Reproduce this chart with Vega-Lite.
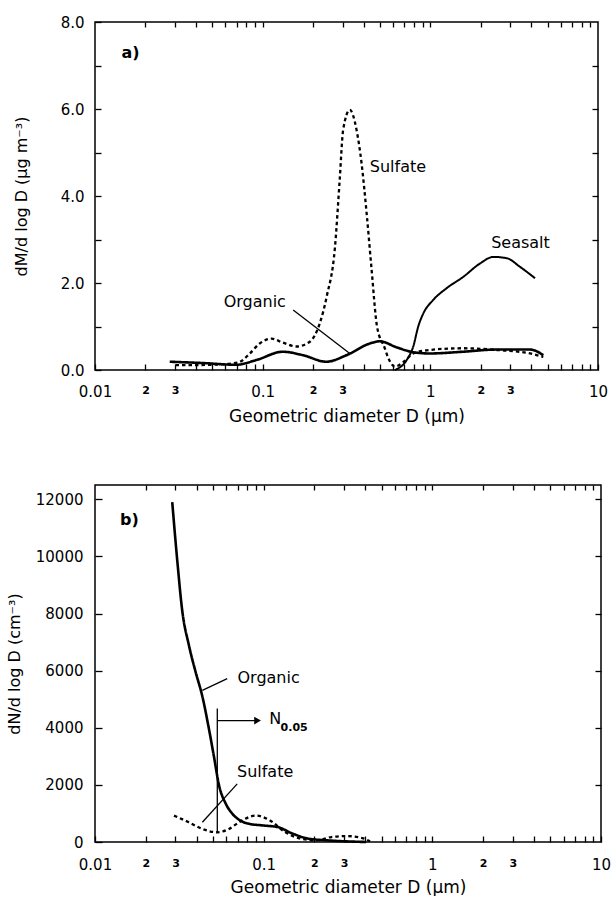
{
  "$schema": "https://vega.github.io/schema/vega-lite/v6.json",
  "background": "white",
  "padding": {"left": 5, "top": 14, "right": 0, "bottom": 0},
  "spacing": 58,
  "config": {
    "view": {"stroke": "black", "strokeWidth": 1.5},
    "font": "DejaVu Sans",
    "axis": {"domain": false, "grid": false, "ticks": true, "tickColor": "black", "tickWidth": 1.3, "tickOpacity": 1, "labelColor": "black", "titleColor": "black", "labelFontWeight": "normal", "titleFontWeight": "normal", "labelFont": "DejaVu Sans", "titleFont": "DejaVu Sans"},
    "text": {"font": "DejaVu Sans", "fontSize": 16, "color": "black"}
  },
  "datasets": {
    "massLines": [
      {"series": "Organic", "x": 0.0279, "y": 0.19},
      {"series": "Organic", "x": 0.044, "y": 0.16},
      {"series": "Organic", "x": 0.0698, "y": 0.12},
      {"series": "Organic", "x": 0.0918, "y": 0.23},
      {"series": "Organic", "x": 0.132, "y": 0.42},
      {"series": "Organic", "x": 0.174, "y": 0.34},
      {"series": "Organic", "x": 0.24, "y": 0.19},
      {"series": "Organic", "x": 0.316, "y": 0.34},
      {"series": "Organic", "x": 0.436, "y": 0.61},
      {"series": "Organic", "x": 0.5, "y": 0.66},
      {"series": "Organic", "x": 0.63, "y": 0.52},
      {"series": "Organic", "x": 0.79, "y": 0.41},
      {"series": "Organic", "x": 0.99, "y": 0.38},
      {"series": "Organic", "x": 1.57, "y": 0.42},
      {"series": "Organic", "x": 2.49, "y": 0.47},
      {"series": "Organic", "x": 3.94, "y": 0.47},
      {"series": "Organic", "x": 4.72, "y": 0.34},
      {"series": "Sulfate", "x": 0.0302, "y": 0.11},
      {"series": "Sulfate", "x": 0.05, "y": 0.12},
      {"series": "Sulfate", "x": 0.0713, "y": 0.17},
      {"series": "Sulfate", "x": 0.0838, "y": 0.38},
      {"series": "Sulfate", "x": 0.096, "y": 0.61},
      {"series": "Sulfate", "x": 0.113, "y": 0.72},
      {"series": "Sulfate", "x": 0.132, "y": 0.63},
      {"series": "Sulfate", "x": 0.159, "y": 0.54},
      {"series": "Sulfate", "x": 0.191, "y": 0.65},
      {"series": "Sulfate", "x": 0.219, "y": 1.07},
      {"series": "Sulfate", "x": 0.241, "y": 1.69},
      {"series": "Sulfate", "x": 0.27, "y": 2.83},
      {"series": "Sulfate", "x": 0.288, "y": 4.37},
      {"series": "Sulfate", "x": 0.302, "y": 5.52},
      {"series": "Sulfate", "x": 0.331, "y": 5.98},
      {"series": "Sulfate", "x": 0.363, "y": 5.52},
      {"series": "Sulfate", "x": 0.389, "y": 4.75},
      {"series": "Sulfate", "x": 0.417, "y": 3.6},
      {"series": "Sulfate", "x": 0.445, "y": 2.37},
      {"series": "Sulfate", "x": 0.481, "y": 1.0},
      {"series": "Sulfate", "x": 0.535, "y": 0.5},
      {"series": "Sulfate", "x": 0.561, "y": 0.28},
      {"series": "Sulfate", "x": 0.615, "y": 0.08},
      {"series": "Sulfate", "x": 0.7, "y": 0.2},
      {"series": "Sulfate", "x": 0.79, "y": 0.38},
      {"series": "Sulfate", "x": 0.99, "y": 0.46},
      {"series": "Sulfate", "x": 1.57, "y": 0.5},
      {"series": "Sulfate", "x": 2.49, "y": 0.46},
      {"series": "Sulfate", "x": 3.94, "y": 0.38},
      {"series": "Sulfate", "x": 4.72, "y": 0.3},
      {"series": "Seasalt", "x": 0.615, "y": 0},
      {"series": "Seasalt", "x": 0.723, "y": 0.23},
      {"series": "Seasalt", "x": 0.791, "y": 0.54},
      {"series": "Seasalt", "x": 0.847, "y": 1.0},
      {"series": "Seasalt", "x": 0.908, "y": 1.3},
      {"series": "Seasalt", "x": 1.04, "y": 1.61},
      {"series": "Seasalt", "x": 1.25, "y": 1.88},
      {"series": "Seasalt", "x": 1.57, "y": 2.14},
      {"series": "Seasalt", "x": 1.98, "y": 2.45},
      {"series": "Seasalt", "x": 2.38, "y": 2.6},
      {"series": "Seasalt", "x": 2.86, "y": 2.57},
      {"series": "Seasalt", "x": 3.43, "y": 2.37},
      {"series": "Seasalt", "x": 4.21, "y": 2.11}
    ],
    "massLabels": [
      {"label": "Organic", "x": 0.0897, "y": 1.56},
      {"label": "Sulfate", "x": 0.641, "y": 4.67},
      {"label": "Seasalt", "x": 3.45, "y": 2.93}
    ],
    "massPanel": [{"label": "a)", "x": 0.0163, "y": 7.28}],
    "massLeader": [{"x": 0.152, "y": 1.38, "x2": 0.331, "y2": 0.38}],
    "numLines": [
      {"series": "Organic", "x": 0.0287, "y": 11900},
      {"series": "Organic", "x": 0.0308, "y": 9800},
      {"series": "Organic", "x": 0.0329, "y": 8100},
      {"series": "Organic", "x": 0.036, "y": 6900},
      {"series": "Organic", "x": 0.0395, "y": 5950},
      {"series": "Organic", "x": 0.0433, "y": 5100},
      {"series": "Organic", "x": 0.0474, "y": 3950},
      {"series": "Organic", "x": 0.0507, "y": 3000},
      {"series": "Organic", "x": 0.0543, "y": 2000},
      {"series": "Organic", "x": 0.0595, "y": 1350},
      {"series": "Organic", "x": 0.065, "y": 1000},
      {"series": "Organic", "x": 0.0714, "y": 780},
      {"series": "Organic", "x": 0.08, "y": 650},
      {"series": "Organic", "x": 0.098, "y": 581},
      {"series": "Organic", "x": 0.121, "y": 523},
      {"series": "Organic", "x": 0.149, "y": 290},
      {"series": "Organic", "x": 0.184, "y": 116},
      {"series": "Organic", "x": 0.239, "y": 58},
      {"series": "Organic", "x": 0.405, "y": 0},
      {"series": "Sulfate", "x": 0.0294, "y": 925},
      {"series": "Sulfate", "x": 0.036, "y": 690},
      {"series": "Sulfate", "x": 0.0433, "y": 456},
      {"series": "Sulfate", "x": 0.0531, "y": 340},
      {"series": "Sulfate", "x": 0.0622, "y": 456},
      {"series": "Sulfate", "x": 0.0714, "y": 690},
      {"series": "Sulfate", "x": 0.0897, "y": 925},
      {"series": "Sulfate", "x": 0.109, "y": 755},
      {"series": "Sulfate", "x": 0.134, "y": 348},
      {"series": "Sulfate", "x": 0.166, "y": 116},
      {"series": "Sulfate", "x": 0.205, "y": 58},
      {"series": "Sulfate", "x": 0.252, "y": 174},
      {"series": "Sulfate", "x": 0.311, "y": 209},
      {"series": "Sulfate", "x": 0.384, "y": 139},
      {"series": "Sulfate", "x": 0.427, "y": 23}
    ],
    "numLabels": [
      {"label": "Organic", "x": 0.107, "y": 5749},
      {"label": "Sulfate", "x": 0.102, "y": 2439}
    ],
    "numPanel": [{"label": "b)", "x": 0.016, "y": 11266}],
    "numN": [{"label": "N", "x": 0.108, "y": 4300}],
    "numSub": [{"label": "0.05", "x": 0.126, "y": 3980}],
    "numRules": [
      {"x": 0.0531, "y": 340, "x2": 0.0531, "y2": 4670},
      {"x": 0.0531, "y": 4250, "x2": 0.09, "y2": 4250},
      {"x": 0.0433, "y": 5312, "x2": 0.0608, "y2": 5723},
      {"x": 0.0433, "y": 690, "x2": 0.0697, "y2": 2036}
    ],
    "numArrow": [{"x": 0.092, "y": 4250}]
  },
  "vconcat": [
    {
      "width": 503,
      "height": 348,
      "resolve": {"scale": {"x": "independent", "y": "independent"}, "axis": {"x": "independent", "y": "independent"}},
      "layer": [
        {
          "data": {"name": "massLines"},
          "mark": {"type": "line", "interpolate": "monotone", "color": "black"},
          "encoding": {
            "x": {"field": "x", "type": "quantitative", "scale": {"type": "log", "domain": [0.01, 10]},
              "axis": {"orient": "bottom", "values": [0.01, 0.02, 0.03, 0.04, 0.05, 0.06, 0.07, 0.08, 0.09, 0.1, 0.2, 0.3, 0.4, 0.5, 0.6, 0.7, 0.8, 0.9, 1, 2, 3, 4, 5, 6, 7, 8, 9, 10], "ticks": true, "tickSize": 6, "offset": -6, "labelFlush": false, "labelOverlap": false, "labelBound": false, "labelPadding": 14,
                "labelExpr": "datum.value == 0.01 ? '0.01' : datum.value == 0.1 ? '0.1' : datum.value == 1 ? '1' : datum.value == 10 ? '10' : (datum.value == 0.02 || datum.value == 0.2 || datum.value == 2) ? '2' : (datum.value == 0.03 || datum.value == 0.3 || datum.value == 3) ? '3' : ''",
                "labelFontSize": {"condition": {"test": "datum.value == 0.01 || datum.value == 0.1 || datum.value == 1 || datum.value == 10", "value": 15}, "value": 11},
                "labelFontWeight": {"condition": {"test": "datum.value == 0.01 || datum.value == 0.1 || datum.value == 1 || datum.value == 10", "value": "normal"}, "value": "bold"},
                "title": "Geometric diameter D (μm)", "titleFontSize": 17, "titlePadding": 9}},
            "y": {"field": "y", "type": "quantitative", "scale": {"domain": [0, 8]},
              "axis": {"orient": "left", "values": [0, 1, 2, 3, 4, 5, 6, 7, 8], "ticks": true, "tickSize": 6, "offset": -6, "labelPadding": 11, "labelFontSize": 15, "labelExpr": "datum.value % 2 == 0 ? format(datum.value, '.1f') : ''",
                "title": "dM/d log D (μg m⁻³)", "titleFontSize": 16, "titleX": -72}},
            "strokeDash": {"field": "series", "type": "nominal", "scale": {"domain": ["Organic", "Sulfate", "Seasalt"], "range": [[1, 0], [3.5, 3], [1, 0]]}, "legend": null},
            "strokeWidth": {"field": "series", "type": "nominal", "scale": {"domain": ["Organic", "Sulfate", "Seasalt"], "range": [2.6, 2, 1.6]}, "legend": null}
          }
        },
        {
          "data": {"name": "massLabels"},
          "mark": {"type": "text", "align": "center", "baseline": "middle", "fontSize": 16},
          "encoding": {
            "x": {"field": "x", "type": "quantitative", "scale": {"type": "log", "domain": [0.01, 10]}, "axis": {"orient": "top", "values": [0.02, 0.03, 0.04, 0.05, 0.06, 0.07, 0.08, 0.09, 0.1, 0.2, 0.3, 0.4, 0.5, 0.6, 0.7, 0.8, 0.9, 1, 2, 3, 4, 5, 6, 7, 8, 9], "ticks": true, "labels": false, "tickSize": 5, "offset": -5, "title": null}},
            "y": {"field": "y", "type": "quantitative", "scale": {"domain": [0, 8]}, "axis": {"orient": "right", "values": [1, 2, 3, 4, 5, 6, 7], "ticks": true, "labels": false, "tickSize": 6, "offset": -6, "title": null}},
            "text": {"field": "label"}
          }
        },
        {
          "data": {"name": "massLeader"},
          "mark": {"type": "rule", "color": "black", "strokeWidth": 1.3},
          "encoding": {
            "x": {"field": "x", "type": "quantitative", "scale": {"type": "log", "domain": [0.01, 10]}, "axis": null},
            "y": {"field": "y", "type": "quantitative", "scale": {"domain": [0, 8]}, "axis": null},
            "x2": {"field": "x2"},
            "y2": {"field": "y2"}
          }
        },
        {
          "data": {"name": "massPanel"},
          "mark": {"type": "text", "align": "center", "baseline": "middle", "fontSize": 16, "fontWeight": "bold"},
          "encoding": {
            "x": {"field": "x", "type": "quantitative", "scale": {"type": "log", "domain": [0.01, 10]}, "axis": null},
            "y": {"field": "y", "type": "quantitative", "scale": {"domain": [0, 8]}, "axis": null},
            "text": {"field": "label"}
          }
        }
      ]
    },
    {
      "width": 506,
      "height": 357,
      "resolve": {"scale": {"x": "independent", "y": "independent"}, "axis": {"x": "independent", "y": "independent"}},
      "layer": [
        {
          "data": {"name": "numLines"},
          "mark": {"type": "line", "interpolate": "monotone", "color": "black"},
          "encoding": {
            "x": {"field": "x", "type": "quantitative", "scale": {"type": "log", "domain": [0.01, 10]},
              "axis": {"orient": "bottom", "values": [0.01, 0.02, 0.03, 0.04, 0.05, 0.06, 0.07, 0.08, 0.09, 0.1, 0.2, 0.3, 0.4, 0.5, 0.6, 0.7, 0.8, 0.9, 1, 2, 3, 4, 5, 6, 7, 8, 9, 10], "ticks": true, "tickSize": 6, "offset": -6, "labelFlush": false, "labelOverlap": false, "labelBound": false, "labelPadding": 15,
                "labelExpr": "datum.value == 0.01 ? '0.01' : datum.value == 0.1 ? '0.1' : datum.value == 1 ? '1' : datum.value == 10 ? '10' : (datum.value == 0.02 || datum.value == 0.2 || datum.value == 2) ? '2' : (datum.value == 0.03 || datum.value == 0.3 || datum.value == 3) ? '3' : ''",
                "labelFontSize": {"condition": {"test": "datum.value == 0.01 || datum.value == 0.1 || datum.value == 1 || datum.value == 10", "value": 15}, "value": 11},
                "labelFontWeight": {"condition": {"test": "datum.value == 0.01 || datum.value == 0.1 || datum.value == 1 || datum.value == 10", "value": "normal"}, "value": "bold"},
                "title": "Geometric diameter D (μm)", "titleFontSize": 17, "titlePadding": 7}},
            "y": {"field": "y", "type": "quantitative", "scale": {"domain": [0, 12500]},
              "axis": {"orient": "left", "values": [0, 2000, 4000, 6000, 8000, 10000, 12000], "ticks": true, "tickSize": 7, "offset": -7, "labelPadding": 12, "labelFontSize": 15, "format": "d",
                "title": "dN/d log D (cm⁻³)", "titleFontSize": 16, "titleX": -80}},
            "strokeDash": {"field": "series", "type": "nominal", "scale": {"domain": ["Organic", "Sulfate"], "range": [[1, 0], [3, 3]]}, "legend": null},
            "strokeWidth": {"field": "series", "type": "nominal", "scale": {"domain": ["Organic", "Sulfate"], "range": [2.6, 2.2]}, "legend": null}
          }
        },
        {
          "data": {"name": "numLabels"},
          "mark": {"type": "text", "align": "center", "baseline": "middle", "fontSize": 16},
          "encoding": {
            "x": {"field": "x", "type": "quantitative", "scale": {"type": "log", "domain": [0.01, 10]}, "axis": {"orient": "top", "values": [0.02, 0.03, 0.04, 0.05, 0.06, 0.07, 0.08, 0.09, 0.1, 0.2, 0.3, 0.4, 0.5, 0.6, 0.7, 0.8, 0.9, 1, 2, 3, 4, 5, 6, 7, 8, 9], "ticks": true, "labels": false, "tickSize": 5, "offset": -5, "title": null}},
            "y": {"field": "y", "type": "quantitative", "scale": {"domain": [0, 12500]}, "axis": {"orient": "right", "values": [2000, 4000, 6000, 8000, 10000, 12000], "ticks": true, "labels": false, "tickSize": 6, "offset": -6, "title": null}},
            "text": {"field": "label"}
          }
        },
        {
          "data": {"name": "numRules"},
          "mark": {"type": "rule", "color": "black", "strokeWidth": 1.3},
          "encoding": {
            "x": {"field": "x", "type": "quantitative", "scale": {"type": "log", "domain": [0.01, 10]}, "axis": null},
            "y": {"field": "y", "type": "quantitative", "scale": {"domain": [0, 12500]}, "axis": null},
            "x2": {"field": "x2"},
            "y2": {"field": "y2"}
          }
        },
        {
          "data": {"name": "numPanel"},
          "mark": {"type": "text", "align": "center", "baseline": "middle", "fontSize": 16, "fontWeight": "bold"},
          "encoding": {
            "x": {"field": "x", "type": "quantitative", "scale": {"type": "log", "domain": [0.01, 10]}, "axis": null},
            "y": {"field": "y", "type": "quantitative", "scale": {"domain": [0, 12500]}, "axis": null},
            "text": {"field": "label"}
          }
        },
        {
          "data": {"name": "numN"},
          "mark": {"type": "text", "align": "left", "baseline": "middle", "fontSize": 16},
          "encoding": {
            "x": {"field": "x", "type": "quantitative", "scale": {"type": "log", "domain": [0.01, 10]}, "axis": null},
            "y": {"field": "y", "type": "quantitative", "scale": {"domain": [0, 12500]}, "axis": null},
            "text": {"field": "label"}
          }
        },
        {
          "data": {"name": "numSub"},
          "mark": {"type": "text", "align": "left", "baseline": "middle", "fontSize": 11, "fontWeight": "bold"},
          "encoding": {
            "x": {"field": "x", "type": "quantitative", "scale": {"type": "log", "domain": [0.01, 10]}, "axis": null},
            "y": {"field": "y", "type": "quantitative", "scale": {"domain": [0, 12500]}, "axis": null},
            "text": {"field": "label"}
          }
        },
        {
          "data": {"name": "numArrow"},
          "mark": {"type": "point", "shape": "triangle-right", "filled": true, "color": "black", "size": 60, "opacity": 1},
          "encoding": {
            "x": {"field": "x", "type": "quantitative", "scale": {"type": "log", "domain": [0.01, 10]}, "axis": null},
            "y": {"field": "y", "type": "quantitative", "scale": {"domain": [0, 12500]}, "axis": null}
          }
        }
      ]
    }
  ]
}
